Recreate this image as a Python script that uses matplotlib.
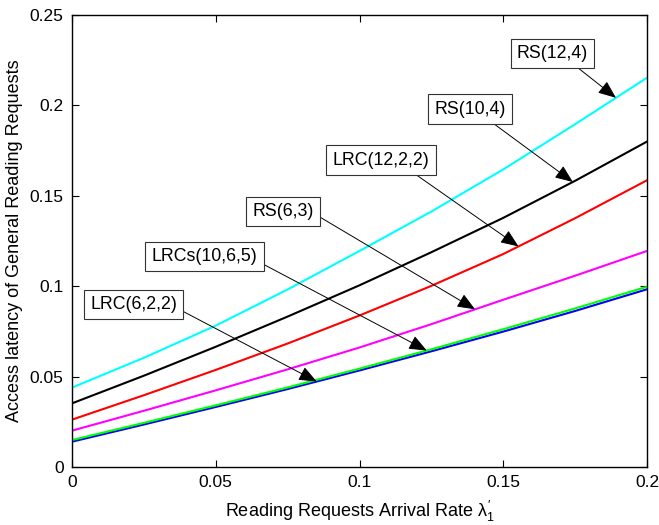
# -*- coding: utf-8 -*-
import numpy as np
import matplotlib
matplotlib.use('Agg')
import matplotlib.pyplot as plt

plt.rcParams['font.family'] = ['Liberation Sans', 'DejaVu Sans']
plt.rcParams['mathtext.fontset'] = 'custom'
plt.rcParams['mathtext.rm'] = 'Liberation Sans'
plt.rcParams['mathtext.it'] = 'Liberation Sans'

# arrival rate
rate = [0, 0.025, 0.05, 0.075, 0.1, 0.125, 0.15, 0.175, 0.2]

# access latency for each code
rs_12_4 = [0.0439, 0.0604, 0.0782, 0.0982, 0.1195, 0.1413, 0.1646, 0.1896, 0.2153]
rs_10_4 = [0.0352, 0.0505, 0.0665, 0.0832, 0.1005, 0.1188, 0.1378, 0.1583, 0.1800]
lrc_12_2_2 = [0.0262, 0.0397, 0.0537, 0.0683, 0.0838, 0.1002, 0.1178, 0.1376, 0.1586]
rs_6_3 = [0.0201, 0.0311, 0.0424, 0.0540, 0.0661, 0.0790, 0.0925, 0.1058, 0.1195]
lrcs_10_6_5 = [0.0149, 0.0244, 0.0341, 0.0440, 0.0544, 0.0651, 0.0762, 0.0877, 0.0997]
lrc_6_2_2 = [0.0140, 0.0235, 0.0332, 0.0431, 0.0534, 0.0640, 0.0749, 0.0863, 0.0983]

fig = plt.figure(figsize=(6.59, 5.25), dpi=100)
ax = fig.add_axes([0.1093, 0.1105, 0.8725, 0.8609])

ax.plot(rate, rs_12_4, color='#00ffff', lw=1.5)
ax.plot(rate, rs_10_4, color='black', lw=1.5)
ax.plot(rate, lrc_12_2_2, color='#ff0000', lw=1.5)
ax.plot(rate, rs_6_3, color='#ff00ff', lw=1.5)
ax.plot(rate, lrc_6_2_2, color='#0000ff', lw=1.5)
ax.plot(rate, lrcs_10_6_5, color='#00ff00', lw=1.5)

# labels with arrows: (text, series, tip x, text center, arrow start rel pos)
notes = [
    ('RS(12,4)', rs_12_4, 0.1892, (0.1671, 0.2287), (0.755, 0.0)),
    ('RS(10,4)', rs_10_4, 0.1742, (0.1384, 0.1979), (0.72, 0.0)),
    ('LRC(12,2,2)', lrc_12_2_2, 0.1553, (0.1075, 0.1698), (0.77, 0.0)),
    ('RS(6,3)', rs_6_3, 0.1402, (0.0734, 0.1413), (1.0, 0.39)),
    ('LRCs(10,6,5)', lrcs_10_6_5, 0.1234, (0.0461, 0.1164), (1.0, 0.23)),
    ('LRC(6,2,2)', lrc_6_2_2, 0.0851, (0.0215, 0.0900), (1.0, 0.26)),
]
for txt, ys, tx, pos, rel in notes:
    ty = np.interp(tx, rate, ys)
    ax.annotate(txt, xy=(tx, ty), xytext=pos, ha='center', va='center',
                fontsize=12.8,
                bbox=dict(boxstyle='square,pad=0.35', fc='white', ec='#333333', lw=0.8),
                arrowprops=dict(arrowstyle='-|>,head_length=1.1,head_width=0.45',
                                mutation_scale=10, lw=0.7, color='black',
                                shrinkA=0, shrinkB=0, relpos=rel))

ax.set_xlim(0, 0.2)
ax.set_ylim(0, 0.25)
ax.set_xticks([0, 0.05, 0.1, 0.15, 0.2])
ax.set_xticklabels(['0', '0.05', '0.1', '0.15', '0.2'])
ax.set_yticks([0, 0.05, 0.1, 0.15, 0.2, 0.25])
ax.set_yticklabels(['0', '0.05', '0.1', '0.15', '0.2', '0.25'])
ax.tick_params(direction='in', length=5, width=0.8, top=True, right=True,
               labelsize=12.5, pad=6)
for s in ax.spines.values():
    s.set_linewidth(1.0)

ax.set_xlabel(r'Reading Requests Arrival Rate $\lambda_1^{\prime}$', fontsize=13, labelpad=6)
ax.set_ylabel('Access latency of General Reading Requests', fontsize=13, labelpad=5)

fig.savefig('out.png', dpi=100)
